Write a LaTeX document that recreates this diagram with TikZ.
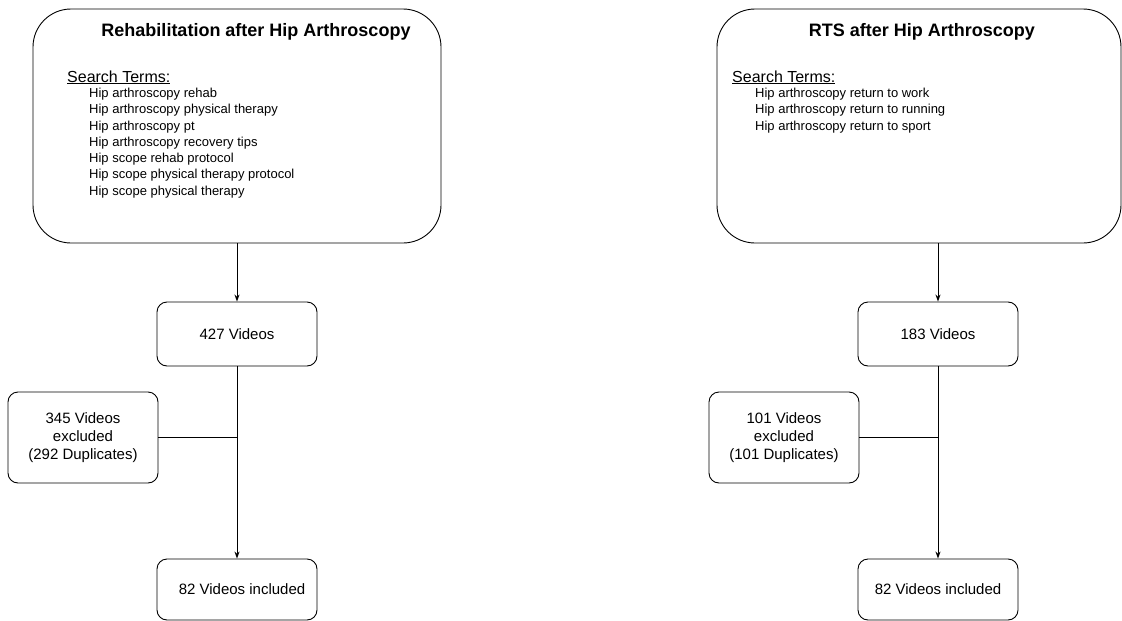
\documentclass[tikz,border=0pt]{standalone}
\usepackage{fontspec}
\setmainfont{Liberation Sans}
\usetikzlibrary{arrows.meta}
\begin{document}
\begin{tikzpicture}[x=1pt,y=-1pt,
  bigbox/.style={draw=black,line width=0.9pt,rounded corners=38pt,minimum width=#1,minimum height=234pt,inner sep=0pt},
  smallbox/.style={draw=black,line width=0.9pt,rounded corners=10pt,minimum width=160pt,minimum height=64pt,inner sep=0pt,align=center,font=\fontsize{15}{18}\selectfont},
  sidebox/.style={draw=black,line width=0.9pt,rounded corners=10pt,minimum width=150pt,minimum height=91pt,inner sep=0pt,align=center,font=\fontsize{15}{18}\selectfont},
  titletext/.style={font=\fontsize{18}{21}\selectfont\bfseries,inner sep=0pt},
  searchtext/.style={font=\fontsize{16}{19}\selectfont,inner sep=0pt,anchor=base west},
  listtext/.style={font=\fontsize{13}{16.25}\selectfont,inner sep=0pt,anchor=north west,align=left},
  flow/.style={line width=0.9pt,-{Stealth[length=7pt,width=5pt]}},
  plain/.style={line width=0.9pt}
]
\useasboundingbox (0,0) rectangle (1122,621);

% Left column
\node[bigbox=408pt] (bigL) at (237,126) {};
\node[titletext] (titleL) at (256,32) {Rehabilitation after Hip Arthroscopy};
\node[searchtext] (searchL) at (67,82) {\underline{Search Terms:}};
\node[listtext] (listL) at (89,88) {Hip arthroscopy rehab\\Hip arthroscopy physical therapy\\Hip arthroscopy pt\\Hip arthroscopy recovery tips\\Hip scope rehab protocol\\Hip scope physical therapy protocol\\Hip scope physical therapy};
\node[smallbox] (vidL) at (237,334) {427 Videos};
\node[sidebox] (exL) at (83,437.5) {345 Videos\\excluded\\(292 Duplicates)};
\node[smallbox,minimum height=61pt] (incL) at (237,589.5) {\hspace*{10pt}82 Videos included};
\coordinate (jL) at (vidL.south |- exL.east);
\draw[flow] (bigL.south -| vidL.north) -- (vidL.north);
\draw[flow] (vidL.south) -- (incL.north);
\draw[plain] (exL.east) -- (jL);

% Right column
\node[bigbox=404pt] (bigR) at (919,126) {};
\node[titletext] (titleR) at (922,32) {RTS after Hip Arthroscopy};
\node[searchtext] (searchR) at (732,82) {\underline{Search Terms:}};
\node[listtext] (listR) at (755,88) {Hip arthroscopy return to work\\Hip arthroscopy return to running\\Hip arthroscopy return to sport};
\node[smallbox] (vidR) at (938,334) {183 Videos};
\node[sidebox] (exR) at (784,437.5) {101 Videos\\excluded\\(101 Duplicates)};
\node[smallbox,minimum height=61pt] (incR) at (938,589.5) {82 Videos included};
\coordinate (jR) at (vidR.south |- exR.east);
\draw[flow] (bigR.south -| vidR.north) -- (vidR.north);
\draw[flow] (vidR.south) -- (incR.north);
\draw[plain] (exR.east) -- (jR);
\end{tikzpicture}
\end{document}
